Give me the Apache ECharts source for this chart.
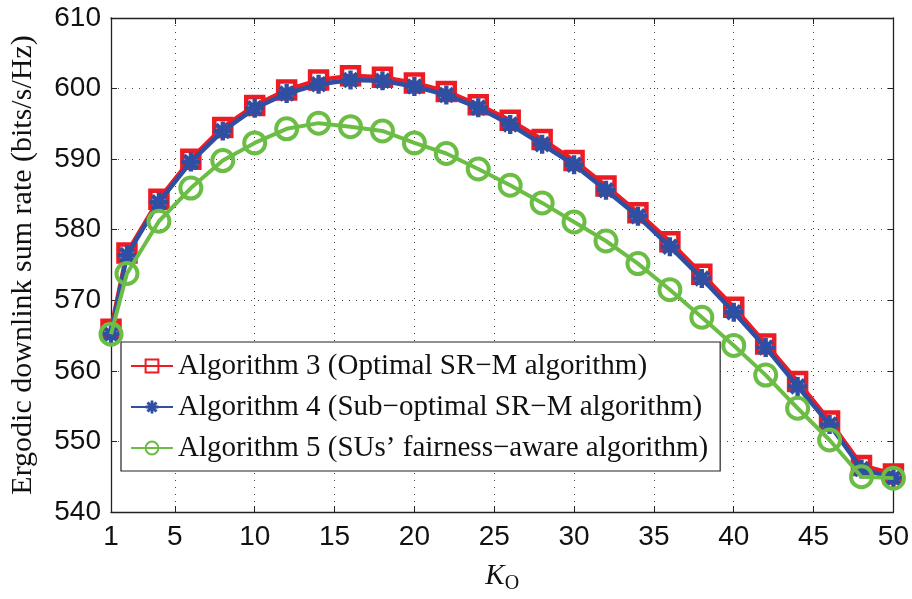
<!DOCTYPE html>
<html><head><meta charset="utf-8">
<script src="https://cdn.jsdelivr.net/npm/echarts@6/dist/echarts.min.js"></script>
<style>html,body{margin:0;padding:0;background:#fff}#c{width:912px;height:599px}</style>
</head><body><div id="c"></div>
<script>
const kValues = [1, 2, 4, 6, 8, 10, 12, 14, 16, 18, 20, 22, 24, 26, 28, 30, 32, 34, 36, 38, 40, 42, 44, 46, 48, 50];
const alg3 = [565.9, 576.7, 584.3, 590.0, 594.5, 597.6, 599.8, 601.2, 601.8, 601.6, 600.8, 599.6, 597.7, 595.5, 592.8, 589.8, 586.2, 582.4, 578.3, 573.7, 569.0, 563.8, 558.5, 552.9, 546.6, 545.4];
const alg4 = [565.2, 576.4, 583.9, 589.6, 594.0, 597.2, 599.3, 600.6, 601.2, 601.1, 600.3, 599.1, 597.3, 594.9, 592.1, 589.2, 585.6, 581.9, 577.6, 573.1, 568.3, 563.3, 557.8, 552.4, 546.1, 544.8];
const alg5 = [565.2, 573.8, 581.2, 585.9, 589.8, 592.3, 594.3, 595.1, 594.6, 594.0, 592.3, 590.8, 588.6, 586.3, 583.8, 581.1, 578.4, 575.2, 571.5, 567.6, 563.6, 559.4, 554.7, 550.2, 545.0, 544.8];
const xTicks = [1, 5, 10, 15, 20, 25, 30, 35, 40, 45, 50];
const seriesNames = ['Algorithm 3 (Optimal SR\u2212M algorithm)', 'Algorithm 4 (Sub\u2212optimal SR\u2212M algorithm)', 'Algorithm 5 (SUs\u2019 fairness\u2212aware algorithm)'];

const RED = '#ec1c24', BLUE = '#2f50a2', GREEN = '#6cbd45';
const asterisk = 'path://M-10,-2.3L10,-2.3L10,2.3L-10,2.3Z M-2.3,-10L2.3,-10L2.3,10L-2.3,10Z M-5.4,-8.7L8.7,5.4L5.4,8.7L-8.7,-5.4Z M5.4,-8.7L8.7,-5.4L-5.4,8.7L-8.7,5.4Z';
const pair = arr => kValues.map((k, i) => [k, arr[i]]);
const labelFont = '"Liberation Sans", Arial, sans-serif';
const serif = '"Liberation Serif", "Times New Roman", serif';

const chart = echarts.init(document.getElementById('c'), null, {renderer: 'canvas'});
chart.setOption({
  animation: false,
  backgroundColor: '#fff',
  grid: {left: 99, right: 16, top: 18, bottom: 84, containLabel: false},
  legend: {
    left: 121, top: 342, orient: 'vertical',
    backgroundColor: '#fff', borderColor: '#222', borderWidth: 1.2, borderRadius: 0,
    padding: [9, 12, 8, 9], itemWidth: 42, itemHeight: 16, itemGap: 11,
    textStyle: {fontFamily: serif, fontSize: 29, color: '#111', lineHeight: 30},
    data: seriesNames
  },
  xAxis: [{
    type: 'value', min: 1, max: 50,
    axisLine: {lineStyle: {color: '#222', width: 1.3}},
    axisTick: {inside: true, length: 6, lineStyle: {color: '#222'}, customValues: xTicks},
    axisLabel: {customValues: xTicks, fontFamily: labelFont, fontSize: 28, color: '#111', margin: 11},
    splitLine: {show: true, lineStyle: {type: [1, 6], color: '#444', width: 1}},
    name: '{k|K}{o|O}', nameLocation: 'middle', nameGap: 46,
    nameTextStyle: {rich: {k: {fontFamily: serif, fontStyle: 'italic', fontSize: 29, color: '#111'}, o: {fontFamily: serif, fontSize: 20, color: '#111', verticalAlign: 'bottom', padding: [16, 0, 0, 0]}}}
  }, {
    type: 'value', min: 1, max: 50, position: 'top',
    axisLine: {show: true, onZero: false, lineStyle: {color: '#222', width: 1.3}},
    axisTick: {show: true, inside: true, length: 6, lineStyle: {color: '#222'}, customValues: xTicks},
    axisLabel: {show: false, customValues: xTicks}, splitLine: {show: false}
  }],
  yAxis: [{
    type: 'value', min: 540, max: 610, interval: 10,
    axisLine: {show: true, lineStyle: {color: '#222', width: 1.3}},
    axisTick: {show: true, inside: true, length: 6, lineStyle: {color: '#222'}},
    axisLabel: {fontFamily: labelFont, fontSize: 28, color: '#111', margin: 10},
    splitLine: {show: true, lineStyle: {type: [1, 6], color: '#444', width: 1}},
    name: 'Ergodic downlink sum rate (bits/s/Hz)', nameLocation: 'middle', nameGap: 73,
    nameTextStyle: {fontFamily: serif, fontSize: 30, color: '#111'}
  }, {
    type: 'value', min: 540, max: 610, interval: 10, position: 'right',
    axisLine: {show: true, onZero: false, lineStyle: {color: '#222', width: 1.3}},
    axisTick: {show: true, inside: true, length: 6, lineStyle: {color: '#222'}},
    axisLabel: {show: false}, splitLine: {show: false}
  }],
  series: [{
    name: seriesNames[0], type: 'line', data: pair(alg3),
    symbol: 'rect', symbolSize: 17,
    lineStyle: {color: RED, width: 4.5},
    itemStyle: {color: 'rgba(255,255,255,0)', borderColor: RED, borderWidth: 4.5},
    z: 2
  }, {
    name: seriesNames[1], type: 'line', data: pair(alg4),
    symbol: asterisk, symbolSize: 19,
    lineStyle: {color: BLUE, width: 4.5},
    itemStyle: {color: BLUE},
    z: 3
  }, {
    name: seriesNames[2], type: 'line', data: pair(alg5),
    symbol: 'circle', symbolSize: 21,
    lineStyle: {color: GREEN, width: 4},
    itemStyle: {color: 'rgba(255,255,255,0)', borderColor: GREEN, borderWidth: 4},
    z: 4
  }]
});
</script></body></html>
